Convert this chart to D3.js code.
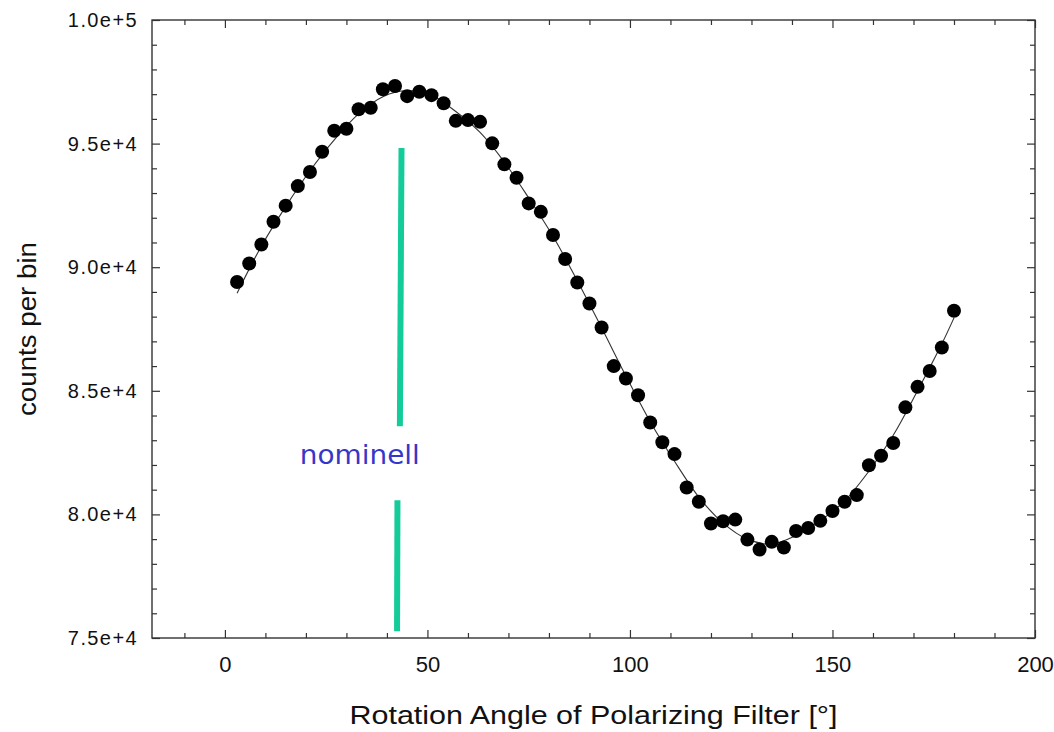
<!DOCTYPE html>
<html>
<head>
<meta charset="utf-8">
<script src="https://cdn.jsdelivr.net/npm/d3@7"></script>
<style>
    body { margin: 0; background: #fff; }
    #chart { width: 1054px; height: 732px; }
    text { font-family: "Liberation Sans", Arial, sans-serif; fill: #111; }
</style>
</head>
<body>
<div id="chart"></div>
<script>
// measured points: rotation angle [deg] and counts per bin
const angles = [3, 6, 9, 12, 15, 18, 21, 24, 27, 30, 33, 36, 39, 42, 45, 48, 51, 54, 57, 60,
    63, 66, 69, 72, 75, 78, 81, 84, 87, 90, 93, 96, 99, 102, 105, 108, 111, 114, 117, 120,
    123, 126, 129, 132, 135, 138, 141, 144, 147, 150, 153, 156, 159, 162, 165, 168, 171, 174, 177, 180];
const counts = [89400, 90150, 90920, 91840, 92490, 93280, 93850, 94670, 95520, 95600,
    96390, 96450, 97200, 97330, 96920, 97100, 96960, 96630, 95920, 95950,
    95880, 95010, 94160, 93620, 92580, 92240, 91300, 90330, 89380, 88530,
    87560, 86000, 85500, 84820, 83720, 82920, 82440, 81090, 80510, 79630,
    79720, 79790, 78980, 78580, 78890, 78660, 79330, 79450, 79740, 80140,
    80510, 80780, 81990, 82370, 82890, 84330, 85160, 85800, 86750, 88240];

// fitted curve
const fitAngles = [3, 9, 15, 21, 27, 33, 39, 45, 51, 57, 63, 69, 75, 81, 87, 93, 99, 105, 111, 117,
    123, 129, 135, 141, 147, 153, 159, 165, 171, 177, 180];
const fitCounts = [88950, 90850, 92450, 93900, 95150, 96200, 96900, 97150, 96950, 96300,
    95450, 94250, 92800, 91250, 89450, 87550, 85600, 83750, 82150, 80700,
    79650, 79000, 78800, 79150, 79750, 80550, 81750, 83200, 85000, 86900, 87950];

// green "nominell" marker, drawn as two segments
const markerAngles = [[43.6, 43.2], [42.6, 42.5]];
const markerCounts = [[94820, 83570], [80570, 75270]];
const markerLabel = "nominell";
const markerLabelPos = [18.5, 82050];

const xDomain = [-18, 200];
const yDomain = [75000, 100000];
const xMajor = [0, 50, 100, 150, 200];
const yMajor = [75000, 80000, 85000, 90000, 95000, 100000];
const yTickLabels = ["7.5e+4", "8.0e+4", "8.5e+4", "9.0e+4", "9.5e+4", "1.0e+5"];
const xTitle = "Rotation Angle of Polarizing Filter [°]";
const yTitle = "counts per bin";

function drawChart() {
    const width = 1054, height = 732;
    const margin = {top: 20, right: 19, bottom: 94, left: 152};
    const w = width - margin.left - margin.right;
    const h = height - margin.top - margin.bottom;

    const x = d3.scaleLinear().domain(xDomain).range([0, w]);
    const y = d3.scaleLinear().domain(yDomain).range([h, 0]);

    const svg = d3.select("#chart").append("svg")
        .attr("width", width)
        .attr("height", height)
        .append("g")
        .attr("transform", `translate(${margin.left},${margin.top})`);

    const xMinor = d3.range(-10, 201, 10).filter(d => !xMajor.includes(d));
    const yMinor = d3.range(75000, 100001, 1000).filter(d => !yMajor.includes(d));

    // ticks on all four sides, pointing inward
    const axes = [
        [d3.axisBottom(x), `translate(0,${h})`, xMajor, xMinor],
        [d3.axisTop(x), "translate(0,0)", xMajor, xMinor],
        [d3.axisLeft(y), "translate(0,0)", yMajor, yMinor],
        [d3.axisRight(y), `translate(${w},0)`, yMajor, yMinor]
    ];
    axes.forEach(([axis, tr, major, minor]) => {
        svg.append("g").attr("transform", tr)
            .call(axis.tickValues(minor).tickSize(-5).tickFormat(""));
        svg.append("g").attr("transform", tr)
            .call(axis.tickValues(major).tickSize(-8).tickFormat(""));
    });

    // labelled axes
    svg.append("g")
        .attr("class", "x-axis")
        .attr("transform", `translate(0,${h})`)
        .call(d3.axisBottom(x).tickValues(xMajor).tickSize(0).tickPadding(18))
        .selectAll("text").style("font-size", "22px");

    svg.append("g")
        .attr("class", "y-axis")
        .call(d3.axisLeft(y).tickValues(yMajor).tickSize(0).tickPadding(14)
            .tickFormat((d, i) => yTickLabels[i]))
        .selectAll("text")
        .style("font-size", "20px")
        .style("letter-spacing", "1.4px");

    svg.selectAll(".domain").remove();
    svg.selectAll(".tick line").attr("stroke", "#333").attr("stroke-width", 1.2);
    svg.selectAll(".tick text").attr("fill", "#111");

    // frame
    svg.append("rect")
        .attr("width", w)
        .attr("height", h)
        .attr("fill", "none")
        .attr("stroke", "#333")
        .attr("stroke-width", 1.4);

    // fitted curve
    const line = d3.line()
        .x(d => x(d[0]))
        .y(d => y(d[1]))
        .curve(d3.curveCatmullRom);

    svg.append("path")
        .datum(fitAngles.map((a, i) => [a, fitCounts[i]]))
        .attr("fill", "none")
        .attr("stroke", "#333")
        .attr("stroke-width", 1.1)
        .attr("d", line);

    // data points
    svg.selectAll("circle.pt")
        .data(angles.map((a, i) => [a, counts[i]]))
        .enter().append("circle")
        .attr("class", "pt")
        .attr("cx", d => x(d[0]))
        .attr("cy", d => y(d[1]))
        .attr("r", 7)
        .attr("fill", "#000");

    // nominal marker
    markerAngles.forEach((seg, i) => {
        svg.append("line")
            .attr("x1", x(seg[0]))
            .attr("x2", x(seg[1]))
            .attr("y1", y(markerCounts[i][0]))
            .attr("y2", y(markerCounts[i][1]))
            .attr("stroke", "#14cc99")
            .attr("stroke-width", 6);
    });

    svg.append("text")
        .attr("x", x(markerLabelPos[0]))
        .attr("y", y(markerLabelPos[1]))
        .attr("textLength", 120)
        .attr("lengthAdjust", "spacingAndGlyphs")
        .style("font-family", "'Comic Sans MS', 'DejaVu Sans', sans-serif")
        .style("font-size", "26px")
        .style("fill", "#3636c8")
        .text(markerLabel);

    // axis titles
    svg.append("text")
        .attr("x", w / 2)
        .attr("y", h + 86)
        .attr("text-anchor", "middle")
        .attr("textLength", 488)
        .attr("lengthAdjust", "spacingAndGlyphs")
        .style("font-size", "25px")
        .text(xTitle);

    svg.append("text")
        .attr("transform", "rotate(-90)")
        .attr("x", -h / 2)
        .attr("y", -margin.left + 36)
        .attr("text-anchor", "middle")
        .attr("textLength", 174)
        .attr("lengthAdjust", "spacingAndGlyphs")
        .style("font-size", "25px")
        .text(yTitle);
}

drawChart();
</script>
</body>
</html>
